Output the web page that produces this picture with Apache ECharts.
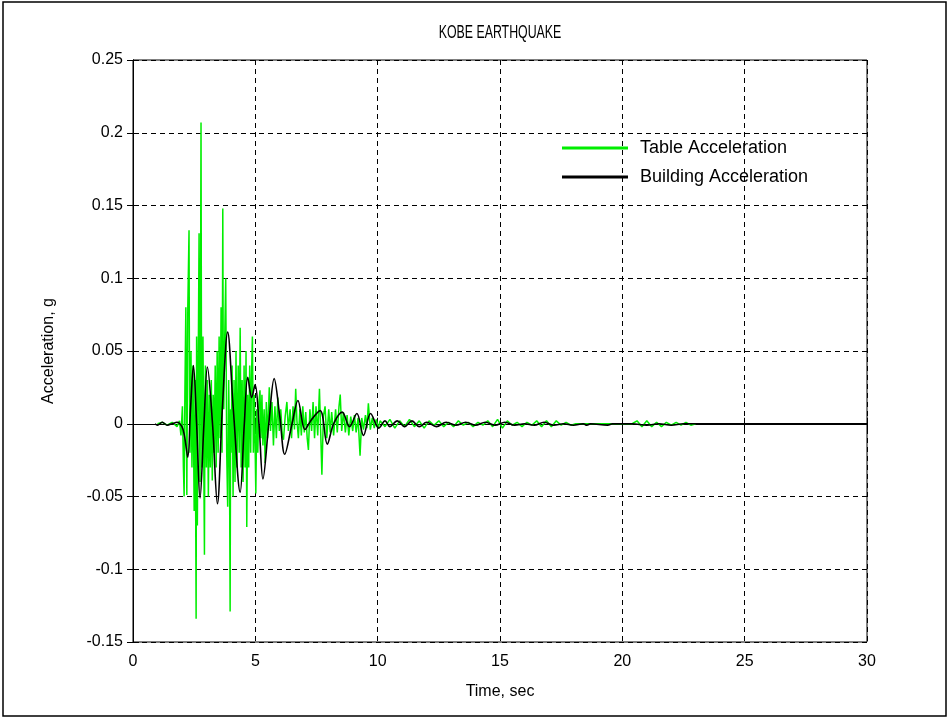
<!DOCTYPE html>
<html>
<head>
<meta charset="utf-8">
<title>KOBE EARTHQUAKE</title>
<script src="https://cdn.jsdelivr.net/npm/echarts@6/dist/echarts.min.js"></script>
<style>
  html, body { margin: 0; padding: 0; background: #fff; }
  #chart { width: 950px; height: 720px; }
</style>
</head>
<body>
<div id="chart"></div>
<script>
// 数据：从图上读出的 [时间 s, 加速度 g]
var tableAcc = [
  [1.0, 0], [1.2, 0.001], [1.4, -0.001], [1.6, 0.001], [1.8, -0.002], [1.9, 0.002],
  [1.96, -0.008], [2.02, 0.012], [2.06, -0.03], [2.09, -0.05], [2.12, 0.02], [2.16, 0.08],
  [2.2, -0.049], [2.24, 0.08], [2.29, 0.133], [2.31, 0.02], [2.33, -0.02], [2.37, 0.05], [2.41, -0.03],
  [2.45, 0.04], [2.5, -0.06], [2.54, 0.03], [2.58, -0.134], [2.6, 0.06], [2.62, 0.02], [2.63, -0.07],
  [2.67, 0.05], [2.7, 0.131], [2.72, 0.0], [2.74, -0.04], [2.78, 0.207], [2.8, 0.03], [2.82, -0.03], [2.86, 0.06],
  [2.89, -0.02], [2.92, -0.09], [2.94, 0.01], [2.96, 0.04], [3.0, -0.03], [3.04, 0.03], [3.08, -0.05], [3.12, 0.02],
  [3.16, -0.03], [3.2, 0.03], [3.24, -0.039], [3.28, 0.02], [3.32, -0.02], [3.36, 0.04],
  [3.4, -0.03], [3.44, 0.05], [3.48, -0.02], [3.52, 0.06], [3.56, -0.01], [3.6, 0.08],
  [3.64, -0.02], [3.67, 0.148], [3.69, 0.03], [3.71, 0.01], [3.75, 0.06], [3.79, 0.1], [3.83, -0.02],
  [3.87, -0.057], [3.91, 0.03], [3.94, -0.01], [3.97, -0.129], [3.99, 0.01], [4.01, -0.02], [4.05, 0.04], [4.09, -0.05],
  [4.13, 0.03], [4.17, -0.04], [4.21, 0.05], [4.25, -0.03], [4.3, 0.04], [4.34, -0.02],
  [4.38, 0.066], [4.42, -0.03], [4.46, 0.03], [4.5, -0.04], [4.54, 0.04], [4.58, -0.03],
  [4.62, 0.05], [4.65, -0.071], [4.69, 0.02], [4.73, -0.03], [4.77, 0.04], [4.81, -0.02],
  [4.84, 0.03], [4.88, 0.06], [4.92, -0.02], [4.96, 0.02], [5.02, -0.048], [5.06, 0.01],
  [5.1, -0.02], [5.15, 0.015], [5.19, 0.023], [5.23, -0.01], [5.27, 0.02], [5.31, -0.015],
  [5.36, 0.01], [5.4, -0.027], [5.45, 0.015], [5.5, -0.01], [5.57, 0.025], [5.62, -0.005],
  [5.68, 0.015], [5.74, -0.015], [5.8, 0.012], [5.86, -0.01], [5.92, 0.018], [5.98, -0.005],
  [6.04, 0.01], [6.1, -0.008], [6.15, -0.011], [6.22, 0.005], [6.29, 0.015], [6.35, -0.005],
  [6.42, 0.01], [6.48, -0.01], [6.54, 0.012], [6.6, -0.004], [6.65, 0.024], [6.7, 0.002],
  [6.76, -0.01], [6.82, 0.01], [6.88, -0.008], [6.94, 0.012], [7.0, -0.006], [7.06, 0.008],
  [7.12, -0.01], [7.17, -0.018], [7.23, 0.01], [7.3, -0.005], [7.36, 0.015], [7.42, -0.01],
  [7.48, 0.012], [7.55, -0.008], [7.62, 0.024], [7.67, -0.005], [7.72, -0.035], [7.78, 0.005],
  [7.85, 0.012], [7.92, -0.01], [8.0, 0.01], [8.06, -0.006], [8.12, 0.008], [8.2, -0.008],
  [8.28, 0.01], [8.35, -0.006], [8.42, 0.012], [8.47, 0.02], [8.53, -0.005], [8.6, 0.008],
  [8.68, -0.006], [8.75, 0.006], [8.82, -0.008], [8.9, 0.005], [8.98, -0.005], [9.05, 0.006],
  [9.12, -0.006], [9.2, 0.004], [9.28, -0.022], [9.35, 0.004], [9.42, -0.004], [9.5, 0.006],
  [9.56, -0.003], [9.62, 0.014], [9.7, -0.004], [9.78, 0.004], [9.86, -0.003], [9.94, 0.003],
  [10.02, -0.003], [10.1, 0.002], [10.3, -0.002], [10.5, 0.003], [10.7, -0.003], [10.9, 0.002],
  [11.1, -0.002], [11.3, 0.003], [11.5, -0.002], [11.7, 0.002], [11.9, -0.003], [12.1, 0.002],
  [12.3, -0.001], [12.5, 0.002], [12.7, -0.002], [12.9, 0.001], [13.1, -0.002], [13.3, 0.002],
  [13.5, -0.001], [13.7, 0.001], [13.9, -0.002], [14.1, 0.001], [14.3, -0.001], [14.5, 0.002],
  [14.7, -0.002], [14.9, 0.003], [15.1, -0.003], [15.3, 0.002], [15.5, -0.001], [15.7, 0.001],
  [15.9, -0.002], [16.1, 0.001], [16.3, -0.001], [16.5, 0.002], [16.7, -0.002], [16.9, 0.002],
  [17.1, -0.002], [17.3, 0.002], [17.5, -0.001], [17.7, 0.001], [17.9, -0.001], [18.1, 0],
  [19.9, 0], [20.4, 0], [20.6, 0.002], [20.8, -0.002], [21.0, 0.002], [21.2, -0.002],
  [21.4, 0.001], [21.6, -0.002], [21.8, 0.001], [22.0, -0.001], [22.2, 0.001], [22.4, -0.001],
  [22.6, 0.001], [22.8, -0.001], [23.0, 0]
]

var buildingAcc = [
  [0.9, 0], [1.0, -0.001], [1.2, 0.001], [1.4, -0.001], [1.6, 0], [1.8, 0.001], [2.0, -0.002],
  [2.1, -0.008], [2.24, -0.023], [2.35, 0.01], [2.47, 0.04], [2.6, 0], [2.74, -0.051],
  [2.9, 0], [3.04, 0.039], [3.25, 0], [3.45, -0.055], [3.65, 0.01], [3.87, 0.063],
  [4.1, 0.01], [4.38, -0.047], [4.55, 0], [4.69, 0.032], [4.85, 0.018], [4.99, 0.027],
  [5.15, 0], [5.31, -0.038], [5.55, 0], [5.77, 0.031], [6.0, 0.005], [6.2, -0.021],
  [6.5, 0], [6.74, 0.016], [7.03, -0.004], [7.3, 0.003], [7.65, 0.009], [7.94, -0.014],
  [8.2, 0], [8.55, 0.008], [8.85, -0.002], [9.15, 0.007], [9.42, -0.008], [9.71, 0.007],
  [10.05, -0.003], [10.3, 0.002], [10.5, -0.002], [10.8, 0.002], [11.1, -0.002], [11.4, 0.002],
  [11.7, -0.002], [12.0, 0.001], [12.4, -0.002], [12.8, 0.001], [13.2, -0.001], [13.6, 0.001],
  [14.0, -0.001], [14.4, 0.001], [14.8, -0.001], [15.2, 0.001], [15.6, -0.001], [16.0, 0],
  [16.4, -0.001], [16.8, 0.001], [17.2, -0.001], [17.6, 0], [18.0, -0.001], [18.4, 0],
  [18.55, -0.001], [18.7, 0], [19.4, -0.001], [19.6, 0], [20.4, 0], [21.0, -0.001],
  [21.5, 0], [22.0, -0.001], [22.5, 0], [23.0, 0], [30.0, 0]
]

var seriesNames = ['Table Acceleration', 'Building Acceleration']
var titleText = 'KOBE EARTHQUAKE'
var xName = 'Time, sec'
var yName = 'Acceleration, g'

var chart = echarts.init(document.getElementById('chart'))
var font = 'Liberation Sans, Arial, sans-serif'

chart.setOption({
  animation: false,
  backgroundColor: '#fff',
  textStyle: { fontFamily: font },
  graphic: [{
    type: 'rect',
    shape: { x: 3, y: 2, width: 943, height: 714 },
    style: { fill: 'none', stroke: '#000', lineWidth: 1.5 },
    silent: true
  }, {
    // 标题字体比较窄，用 scaleX 压一下
    type: 'text',
    x: 500,
    y: 33,
    scaleX: 0.65,
    silent: true,
    style: {
      text: titleText,
      fontSize: 19,
      fontFamily: font,
      fill: '#000',
      align: 'center',
      verticalAlign: 'middle'
    }
  }],
  legend: {
    orient: 'vertical',
    left: 557,
    top: 134,
    itemWidth: 66,
    itemHeight: 3,
    itemGap: 11,
    icon: 'rect',
    data: seriesNames,
    textStyle: { fontSize: 18, color: '#000', padding: [0, 0, 0, 7], fontFamily: font }
  },
  grid: {
    left: 133,
    right: 83,
    top: 60,
    bottom: 78,
    show: true,
    borderColor: '#000',
    borderWidth: 1,
    backgroundColor: '#fff'
  },
  xAxis: [{
    type: 'value',
    min: 0,
    max: 30,
    interval: 5,
    name: xName,
    nameLocation: 'middle',
    nameGap: 42,
    nameTextStyle: { fontSize: 16, color: '#000' },
    axisLine: { lineStyle: { color: '#000' } },
    axisTick: { inside: true, length: 6, lineStyle: { color: '#000' } },
    axisLabel: { fontSize: 16, color: '#000', margin: 12 },
    splitLine: { show: true, lineStyle: { color: '#000', type: [5, 4], width: 1 } }
  }, {
    type: 'value',
    position: 'top',
    min: 0,
    max: 30,
    interval: 5,
    axisLine: { lineStyle: { color: '#000' } },
    axisTick: { inside: true, length: 6, lineStyle: { color: '#000' } },
    axisLabel: { show: false },
    splitLine: { show: false }
  }],
  yAxis: [{
    type: 'value',
    min: -0.15,
    max: 0.25,
    interval: 0.05,
    name: yName,
    nameLocation: 'middle',
    nameGap: 76,
    nameTextStyle: { fontSize: 16, color: '#000' },
    axisLine: { show: true, lineStyle: { color: '#000' } },
    axisTick: { show: true, inside: true, length: 6, lineStyle: { color: '#000' } },
    axisLabel: {
      fontSize: 16,
      color: '#000',
      margin: 10,
      formatter: function(v) { return String(+v.toFixed(2)) }
    },
    splitLine: { show: true, lineStyle: { color: '#000', type: [5, 4], width: 1 } }
  }, {
    type: 'value',
    position: 'right',
    min: -0.15,
    max: 0.25,
    interval: 0.05,
    axisLine: { show: true, lineStyle: { color: '#000' } },
    axisTick: { show: true, inside: true, length: 6, lineStyle: { color: '#000' } },
    axisLabel: { show: false },
    splitLine: { show: false }
  }],
  series: [
    {
      name: seriesNames[0],
      type: 'line',
      data: tableAcc,
      showSymbol: false,
      color: '#00ee00',
      lineStyle: { color: '#00ee00', width: 1.5 },
      z: 2
    },
    {
      name: seriesNames[1],
      type: 'line',
      data: buildingAcc,
      showSymbol: false,
      smooth: 0.35,
      color: '#000',
      lineStyle: { color: '#000', width: 1.6 },
      z: 3
    }
  ]
})
</script>
</body>
</html>
